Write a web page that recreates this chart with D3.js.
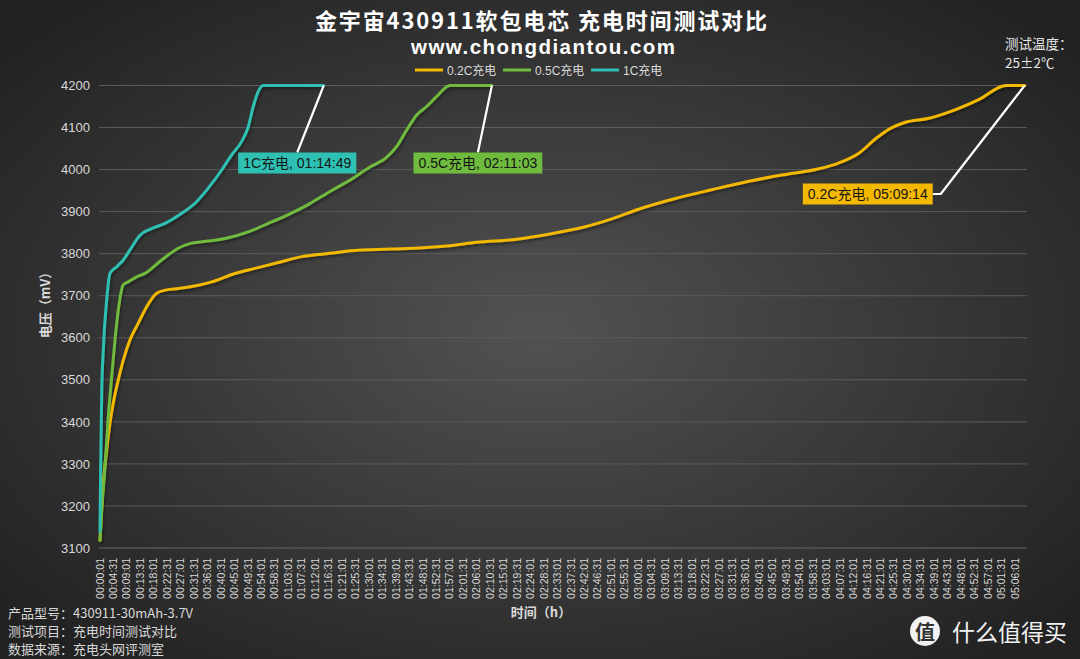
<!DOCTYPE html>
<html><head><meta charset="utf-8">
<script src="https://cdn.jsdelivr.net/npm/d3@7"></script>
<style>
html,body{margin:0;padding:0;background:#2a2a2a;}
svg{display:block;font-family:"Liberation Sans","Noto Sans CJK SC",sans-serif;}
</style></head>
<body><svg id="c" width="1080" height="659"></svg>
<script>
// ---- data ----
const title = "金宇宙430911软包电芯 充电时间测试对比";
const subtitle = "www.chongdiantou.com";
const seriesNames = ["0.2C充电", "0.5C充电", "1C充电"];
const seriesColors = ["#f3b800", "#6fbb3e", "#2ec0b3"];
const yTicks = [3100, 3200, 3300, 3400, 3500, 3600, 3700, 3800, 3900, 4000, 4100, 4200];
const xTickLabels = ["00:00:01","00:04:31","00:09:01","00:13:31","00:18:01","00:22:31","00:27:01","00:31:31","00:36:01","00:40:31","00:45:01","00:49:31","00:54:01","00:58:31","01:03:01","01:07:31","01:12:01","01:16:31","01:21:01","01:25:31","01:30:01","01:34:31","01:39:01","01:43:31","01:48:01","01:52:31","01:57:01","02:01:31","02:06:01","02:10:31","02:15:01","02:19:31","02:24:01","02:28:31","02:33:01","02:37:31","02:42:01","02:46:31","02:51:01","02:55:31","03:00:01","03:04:31","03:09:01","03:13:31","03:18:01","03:22:31","03:27:01","03:31:31","03:36:01","03:40:31","03:45:01","03:49:31","03:54:01","03:58:31","04:03:01","04:07:31","04:12:01","04:16:31","04:21:01","04:25:31","04:30:01","04:34:31","04:39:01","04:43:31","04:48:01","04:52:31","04:57:01","05:01:31","05:06:01"];
// time in minutes, voltage in mV
const t02 = [0,1.10,2.24,3.34,4.45,6.12,7.79,10.03,12.81,15.62,18.96,22.30,26.18,32.87,37.35,45.14,51.83,59.62,67.45,78.58,83.60,96.98,108.11,117.04,125.97,138.81,150.55,162.29,171.65,181.05,192.78,204.52,216.26,228.00,239.70,246.76,253.78,259.67,264.35,269.07,277.26,284.32,293.68,303.07,309.23];
const v02 = [3118,3253,3333,3397,3445,3500,3547,3595,3635,3674,3706,3714,3717,3725,3733,3753,3765,3779,3793,3802,3807,3811,3814,3819,3827,3834,3847,3864,3884,3908,3932,3952,3971,3987,4001,4015,4039,4075,4098,4112,4122,4138,4166,4200,4200];
const t05 = [0,0.57,1.67,2.78,3.91,5.02,6.12,7.79,9.46,12.27,15.05,20.63,26.18,30.66,36.22,42.90,49.59,56.28,62.97,69.9,76.91,83.60,90.29,95.87,99.22,102.56,105.91,109.25,112.60,117.04,131.05];
const v05 = [3118,3190,3293,3412,3507,3595,3666,3726,3733,3745,3753,3785,3813,3825,3830,3838,3852,3872,3893,3918,3948,3975,4006,4029,4055,4094,4130,4150,4174,4200,4200];
const t1 = [0,0.23,0.57,1.10,2.24,3.34,5.58,7.79,10.03,13.38,16.72,21.74,27.32,31.77,36.22,40.70,44.04,47.39,49.59,51.26,52.94,54.61,74.82];
const v1 = [3140,3293,3468,3571,3690,3753,3769,3785,3809,3844,3858,3872,3896,3920,3956,3999,4035,4067,4102,4150,4186,4200,4200];
const endLabels = ["0.2C充电, 05:09:14", "0.5C充电, 02:11:03", "1C充电, 01:14:49"];
const infoLines = ["产品型号：430911-30mAh-3.7V", "测试项目：充电时间测试对比", "数据来源：充电头网评测室"];
const tempLines = ["测试温度：", "25±2℃"];

const series = [
  {name: seriesNames[0], color: seriesColors[0], t: t02, v: v02, label: endLabels[0]},
  {name: seriesNames[1], color: seriesColors[1], t: t05, v: v05, label: endLabels[1]},
  {name: seriesNames[2], color: seriesColors[2], t: t1,  v: v1,  label: endLabels[2]}
];

const svg = d3.select("#c");
const W = 1080, H = 659;
const defs = svg.append("defs");
const rg = defs.append("radialGradient").attr("id","bg").attr("cx","50%").attr("cy","50%").attr("r","65%");
rg.append("stop").attr("offset","0%").attr("stop-color","#525252");
rg.append("stop").attr("offset","100%").attr("stop-color","#222222");
const sh = defs.append("filter").attr("id","sh").attr("x","-5%").attr("y","-5%").attr("width","110%").attr("height","110%");
sh.append("feDropShadow").attr("dx",1).attr("dy",2).attr("stdDeviation",1.5).attr("flood-color","#000").attr("flood-opacity",0.45);
svg.append("rect").attr("width",W).attr("height",H).attr("fill","url(#bg)");

const x = d3.scaleLinear().domain([0, 309.23]).range([100, 1024.7]);
const y = d3.scaleLinear().domain([3100, 4200]).range([548, 85.5]);
const txtCol = "#d9d9d9";

// gridlines
svg.append("g").selectAll("line").data(yTicks).join("line")
  .attr("x1", 99).attr("x2", 1027)
  .attr("y1", d => y(d)).attr("y2", d => y(d))
  .attr("stroke", d => d === 3100 ? "#666" : "#5c5c5c").attr("stroke-width", 1);

// y labels
const yAxis = d3.axisLeft(y).tickValues(yTicks).tickSize(0).tickPadding(9).tickFormat(d3.format("d"));
const gy = svg.append("g").attr("transform","translate(99,0)").call(yAxis);
gy.select(".domain").remove();
gy.selectAll("text").attr("fill", txtCol).attr("font-size", 13).attr("font-family","Liberation Sans, sans-serif");

// x labels (category ticks every 4:30)
const tickMin = xTickLabels.map(s => { const p = s.split(":").map(Number); return p[0]*60 + p[1] + p[2]/60; });
svg.append("g").selectAll("text").data(xTickLabels).join("text")
  .attr("transform", (d,i) => `translate(${x(tickMin[i]) + 3.5},558) rotate(-90)`)
  .attr("text-anchor","end").attr("fill", txtCol).attr("font-size", 10.5)
  .attr("font-family","Liberation Sans, sans-serif").text(d => d);

// lines
const line = d3.line().x(d => x(d[0])).y(d => y(d[1])).curve(d3.curveMonotoneX);
svg.append("g").attr("filter","url(#sh)").selectAll("path").data(series).join("path")
  .attr("d", s => line(s.t.map((tt,i) => [tt, s.v[i]])))
  .attr("fill","none").attr("stroke", s => s.color).attr("stroke-width", 3)
  .attr("stroke-linejoin","round").attr("stroke-linecap","round");

// end annotations
const ann = svg.append("g");
series.forEach((s, k) => {
  const ex = x(s.t[s.t.length-1]), ey = y(s.v[s.v.length-1]);
  const fs = 14;
  const tmp = ann.append("text").attr("font-size", fs).attr("font-family","Liberation Sans, Noto Sans CJK SC, sans-serif").text(s.label);
  const tw = tmp.node().getComputedTextLength();
  tmp.remove();
  const bw = tw + 10, bh = 21;
  let bx, by, pts;
  if (k === 0) {
    by = ey + 98; bx = ex - 92 - bw;
    pts = [[ex, ey], [ex - 84, by + bh/2], [bx + bw, by + bh/2]];
  } else {
    const cx = ex - (k === 2 ? 26.5 : 14);
    by = ey + 67; bx = cx - bw/2;
    pts = [[ex, ey], [cx, by]];
  }
  ann.append("path").attr("d", d3.line()(pts)).attr("fill","none").attr("stroke","#fff").attr("stroke-width",2.2).attr("stroke-linejoin","round");
  ann.append("rect").attr("x",bx).attr("y",by).attr("width",bw).attr("height",bh).attr("fill", s.color);
  ann.append("text").attr("x", bx + bw/2).attr("y", by + 15.5).attr("text-anchor","middle")
    .attr("font-size", fs).attr("fill","#151515").attr("font-family","Liberation Sans, Noto Sans CJK SC, sans-serif").text(s.label);
});

// title
svg.append("text").attr("x",541).attr("y",29).attr("text-anchor","middle").attr("fill","#fff")
  .attr("font-size",22).attr("font-weight","bold").attr("font-family","Noto Sans CJK SC, sans-serif")
  .attr("textLength",452).attr("lengthAdjust","spacing").text(title);
svg.append("text").attr("x",543).attr("y",53.5).attr("text-anchor","middle").attr("fill","#fff")
  .attr("font-size",20.5).attr("font-weight","bold").attr("font-family","Liberation Sans, sans-serif")
  .attr("textLength",264).attr("lengthAdjust","spacing").text(subtitle);

// legend
const lg = svg.append("g");
const lgX = [415, 503, 591];
series.forEach((s,i) => {
  lg.append("line").attr("x1", lgX[i]).attr("x2", lgX[i]+28).attr("y1",70).attr("y2",70).attr("stroke", s.color).attr("stroke-width",3);
  lg.append("text").attr("x", lgX[i]+32).attr("y",74.5).attr("fill", txtCol).attr("font-size",12)
    .attr("font-family","Liberation Sans, Noto Sans CJK SC, sans-serif").text(s.name);
});

// temperature note
svg.selectAll(".tmp").data(tempLines).join("text").attr("class","tmp")
  .attr("x",1005).attr("y",(d,i) => 49 + i*19).attr("fill","#e6e6e6").attr("font-size",13.5)
  .attr("font-family","Noto Sans CJK SC, sans-serif").text(d => d);

// axis titles
svg.append("text").attr("transform","translate(50,302) rotate(-90)").attr("text-anchor","middle")
  .attr("fill",txtCol).attr("font-size",13).attr("font-weight","bold").attr("font-family","Noto Sans CJK SC, sans-serif").text("电压（mV）");
svg.append("text").attr("x",541).attr("y",617).attr("text-anchor","middle")
  .attr("fill",txtCol).attr("font-size",13).attr("font-weight","bold").attr("font-family","Noto Sans CJK SC, sans-serif").text("时间（h）");

// info
svg.selectAll(".info").data(infoLines).join("text").attr("class","info")
  .attr("x",8).attr("y",(d,i) => 618 + i*18).attr("fill",txtCol).attr("font-size",13)
  .attr("font-family","Noto Sans CJK SC, sans-serif").text(d => d);

// watermark
const wm = svg.append("g");
wm.append("circle").attr("cx",925).attr("cy",631).attr("r",15).attr("fill","#f2f2f2");
wm.append("text").attr("x",925).attr("y",640).attr("text-anchor","middle").attr("fill","#333").attr("font-size",20)
  .attr("font-weight","bold").attr("font-family","Noto Sans CJK SC, sans-serif").text("值");
wm.append("text").attr("x",952).attr("y",641).attr("fill","#f2f2f2").attr("font-size",23)
  .attr("font-family","Noto Sans CJK SC, sans-serif").text("什么值得买");
</script></body></html>
